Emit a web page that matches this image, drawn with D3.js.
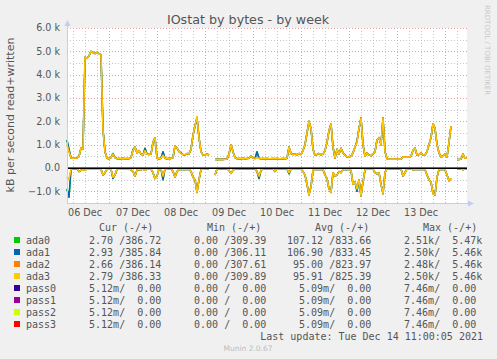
<!DOCTYPE html>
<html lang="en">
<head>
<meta charset="utf-8">
<title>IOstat by bytes - by week</title>
<script src="https://cdn.jsdelivr.net/npm/d3@7"></script>
<style>
  body { margin: 0; background: #f0f0f0; }
  svg { display: block; }
  text { font-family: "DejaVu Sans", sans-serif; fill: #555; }
  .mono { font-family: "DejaVu Sans Mono", monospace; font-size: 10px; white-space: pre; }
</style>
</head>
<body>
<div id="vis"></div>
<script>
  // hourly samples, starting Mon 06 Dec 2021 03:00, ending Tue 14 Dec 11:00 (kB/s)
  // mirror A = ada0/ada1, mirror B = ada2/ada3 ; null = no data
  const writeB = [1000,700,430,420,420,430,500,850,800,4750,
    4700,4800,5000,4950,4900,4950,4900,4850,1600,700,
    420,400,450,600,450,400,410,400,420,400,
    410,400,450,750,900,650,750,600,550,750,
    600,580,600,1100,1300,420,400,420,550,420,
    400,420,410,450,950,850,700,620,580,560,
    620,600,800,1400,1800,2200,1300,700,560,560,
    600,550,null,null,360,370,360,370,360,370,
    380,600,1000,700,450,400,410,400,420,400,
    410,420,520,430,410,450,420,400,410,400,
    410,400,400,410,400,410,400,400,410,400,
    420,900,620,580,600,560,620,580,750,1000,
    1500,2000,1700,800,560,580,620,560,600,750,
    1100,1600,1900,900,420,800,600,850,650,550,
    480,480,500,650,900,1100,1700,2150,1000,500,
    650,560,520,600,700,1200,1300,1000,2150,700,
    400,380,380,390,380,380,390,380,480,470,
    480,470,500,750,850,560,580,650,560,560,
    700,1000,1300,1900,1700,1000,650,480,500,600,
    480,1100,1800,null,null,360,360,380,600,420,
    420];
  const writeA = [1200,800,430,420,420,430,500,850,800,4750,
    4700,4800,5000,4950,4900,4950,4900,4850,1650,700,
    420,400,450,620,450,400,410,400,420,400,
    410,400,450,780,900,650,750,600,550,850,
    600,580,600,1100,1300,420,400,420,700,420,
    400,420,410,450,950,850,700,650,580,560,
    620,600,800,1400,1800,2150,1300,700,560,560,
    600,550,null,null,360,370,360,370,360,370,
    380,600,1000,700,450,400,410,400,420,400,
    410,420,520,430,410,700,420,400,410,400,
    410,400,400,410,400,410,400,400,410,400,
    420,900,620,580,600,560,620,580,750,1000,
    1500,2000,1700,800,560,580,620,560,600,750,
    1100,1600,1900,900,420,800,600,850,650,550,
    480,480,500,650,900,1150,1700,2150,1000,500,
    650,560,520,600,700,1200,1300,1000,2150,700,
    400,380,380,390,380,380,390,380,480,470,
    480,470,500,750,850,560,580,650,560,560,
    700,1000,1300,1900,1700,1000,650,480,500,600,
    480,1100,1800,null,null,360,360,380,600,420,
    420];
  const readB = [-400,-500,-50,-30,-30,-30,-150,-100,-80,-100,
    -40,-50,-40,-50,-40,-50,-40,-50,-300,-200,
    -50,-40,-50,-400,-300,-50,-40,-50,-40,-50,
    -40,-50,-80,-150,-350,-80,-60,-80,-50,-100,
    -50,-40,-50,-200,-450,-350,-50,-40,-350,-40,
    -50,-40,-40,-150,-400,-150,-60,-50,-60,-50,
    -60,-50,-150,-400,-500,-1050,-500,-80,-40,-50,
    -40,-40,null,null,-300,-40,-30,-30,-30,-30,
    -30,-100,-230,-100,-30,-30,-30,-30,-30,-30,
    -30,-30,-30,-30,-30,-150,-350,-100,-30,-30,
    -40,-40,-40,-40,-150,-40,-40,-40,-40,-40,
    -40,-200,-50,-50,-50,-50,-50,-50,-150,-300,
    -700,-1150,-800,-100,-60,-60,-60,-60,-60,-300,
    -450,-900,-1050,-200,-350,-300,-150,-200,-60,-60,
    -60,-60,-100,-700,-600,-900,-500,-1200,-600,-80,
    -50,-50,-50,-50,-200,-250,-200,-700,-1100,-200,
    -30,-30,-30,-30,-30,-30,-30,-30,-350,-200,
    -40,-40,-40,-80,-60,-60,-60,-60,-60,-60,
    -300,-500,-600,-1100,-1150,-400,-60,-60,-60,-60,
    -300,-550,-450,null,null,-30,-30,-30,-80,-30,
    -30];
  const readA = [-900,-1250,-50,-30,-30,-30,-150,-100,-80,-100,
    -40,-50,-40,-50,-40,-50,-40,-50,-300,-200,
    -50,-40,-50,-450,-300,-50,-40,-50,-40,-50,
    -40,-50,-80,-150,-350,-80,-60,-80,-50,-100,
    -50,-40,-50,-200,-450,-350,-50,-40,-500,-40,
    -50,-40,-40,-150,-400,-150,-60,-50,-60,-50,
    -60,-50,-150,-400,-500,-1050,-500,-80,-40,-50,
    -40,-40,null,null,-300,-40,-30,-30,-30,-30,
    -30,-100,-230,-100,-30,-30,-30,-30,-30,-30,
    -30,-30,-30,-30,-30,-150,-450,-100,-30,-30,
    -40,-40,-40,-40,-150,-40,-40,-40,-40,-40,
    -40,-250,-50,-50,-50,-50,-50,-50,-150,-300,
    -700,-1150,-800,-100,-60,-60,-60,-60,-60,-300,
    -450,-900,-1050,-200,-350,-300,-150,-200,-60,-60,
    -60,-60,-100,-700,-600,-1000,-500,-1200,-600,-80,
    -50,-50,-50,-50,-200,-250,-200,-700,-1100,-200,
    -30,-30,-30,-30,-30,-30,-30,-30,-350,-200,
    -40,-40,-40,-80,-60,-60,-60,-60,-60,-60,
    -300,-500,-600,-1100,-1150,-400,-60,-60,-60,-60,
    -300,-550,-450,null,null,-30,-30,-30,-80,-30,
    -30];

  // legend table (read / written)
  const names = ["ada0", "ada1", "ada2", "ada3", "pass0", "pass1", "pass2", "pass3"];
  const colours = ["#00cc00", "#0066b3", "#ff8000", "#ffcc00", "#330099", "#990099", "#ccff00", "#ff0000"];
  const curRead = [2.70, 2.93, 2.66, 2.79, 0.00512, 0.00512, 0.00512, 0.00512];
  const curWrite = [386.72, 385.84, 386.14, 386.33, 0, 0, 0, 0];
  const minRead = [0, 0, 0, 0, 0, 0, 0, 0];
  const minWrite = [309.39, 306.11, 307.61, 309.89, 0, 0, 0, 0];
  const avgRead = [107.12, 106.90, 95.00, 95.91, 0.00509, 0.00509, 0.00509, 0.00509];
  const avgWrite = [833.66, 833.45, 823.97, 825.39, 0, 0, 0, 0];
  const maxRead = [2510, 2500, 2480, 2500, 0.00746, 0.00746, 0.00746, 0.00746];
  const maxWrite = [5470, 5460, 5460, 5460, 0, 0, 0, 0];

  const yTicks = [-1000, 0, 1000, 2000, 3000, 4000, 5000, 6000];

  const width = 497, height = 359;
  const plot = { left: 67, top: 28, right: 467, bottom: 203 };

  const start = new Date(Date.UTC(2021, 11, 6, 3));
  const end = new Date(Date.UTC(2021, 11, 14, 11));
  const times = writeB.map((d, i) => d3.utcHour.offset(start, i));

  const x = d3.scaleUtc().domain([start, end]).range([plot.left, plot.right]);
  const y = d3.scaleLinear().domain([-1500, 6000]).range([plot.bottom, plot.top]);

  const svg = d3.select('#vis').append('svg')
    .attr('width', width)
    .attr('height', height);

  svg.append('rect').attr('width', width).attr('height', height).attr('fill', '#f0f0f0');
  svg.append('rect')
    .attr('x', plot.left).attr('y', plot.top)
    .attr('width', plot.right - plot.left).attr('height', plot.bottom - plot.top)
    .attr('fill', '#fff');

  // grid: minor then major, both dotted
  const grid = svg.append('g').attr('shape-rendering', 'crispEdges');
  const minorX = d3.utcHour.every(6).range(start, end);
  const majorX = d3.utcDay.range(start, end);
  grid.selectAll('.vminor').data(minorX).join('line')
    .attr('x1', d => Math.round(x(d)) + 0.5).attr('x2', d => Math.round(x(d)) + 0.5)
    .attr('y1', plot.top).attr('y2', plot.bottom)
    .attr('stroke', '#c8c8c8').attr('stroke-dasharray', '1,2');
  grid.selectAll('.hminor').data(d3.range(-1500, 6001, 500)).join('line')
    .attr('x1', plot.left).attr('x2', plot.right)
    .attr('y1', d => Math.round(y(d)) + 0.5).attr('y2', d => Math.round(y(d)) + 0.5)
    .attr('stroke', '#c8c8c8').attr('stroke-dasharray', '1,2');
  grid.selectAll('.vmajor').data(majorX).join('line')
    .attr('x1', d => Math.round(x(d)) + 0.5).attr('x2', d => Math.round(x(d)) + 0.5)
    .attr('y1', plot.top).attr('y2', plot.bottom)
    .attr('stroke', '#e8a0a0').attr('stroke-dasharray', '1,2');
  grid.selectAll('.hmajor').data(yTicks).join('line')
    .attr('x1', plot.left).attr('x2', plot.right)
    .attr('y1', d => Math.round(y(d)) + 0.5).attr('y2', d => Math.round(y(d)) + 0.5)
    .attr('stroke', '#e8a0a0').attr('stroke-dasharray', '1,2');

  // series
  const line = d3.line()
    .defined(d => d[1] != null)
    .x(d => x(d[0]))
    .y(d => y(d[1]));
  const zip = arr => arr.map((v, i) => [times[i], v]);
  const zeros = writeB.map(() => 0);

  const series = [
    { w: writeA, r: readA, sw: 1.5 },
    { w: writeA, r: readA, sw: 1.5 },
    { w: writeB, r: readB, sw: 1.5 },
    { w: writeB, r: readB, sw: 1.2 },
    { w: zeros, r: zeros, sw: 1 },
    { w: zeros, r: zeros, sw: 1 },
    { w: zeros, r: zeros, sw: 1 },
    { w: zeros, r: zeros, sw: 1 }
  ];
  const lines = svg.append('g');
  series.forEach((s, i) => {
    [s.r, s.w].forEach(arr => {
      lines.append('path')
        .attr('d', line(zip(arr)))
        .attr('fill', 'none')
        .attr('stroke', colours[i])
        .attr('stroke-width', s.sw)
        .attr('stroke-linejoin', 'round');
    });
  });

  // zero rule
  svg.append('line')
    .attr('x1', plot.left).attr('x2', plot.right)
    .attr('y1', Math.round(y(0)) + 0.5).attr('y2', Math.round(y(0)) + 0.5)
    .attr('stroke', '#000').attr('stroke-width', 1.2);

  // axes with arrows
  const axisColour = '#c4ccf2';
  svg.append('line').attr('x1', plot.left + 0.5).attr('x2', plot.left + 0.5)
    .attr('y1', plot.bottom).attr('y2', plot.top - 3)
    .attr('stroke', axisColour);
  svg.append('line').attr('x1', plot.left).attr('x2', plot.right + 3)
    .attr('y1', plot.bottom + 0.5).attr('y2', plot.bottom + 0.5)
    .attr('stroke', axisColour);
  svg.append('path')
    .attr('d', `M${plot.left - 2.5},${plot.top - 2} L${plot.left + 3.5},${plot.top - 2} L${plot.left + 0.5},${plot.top - 8} Z`)
    .attr('fill', axisColour);
  svg.append('path')
    .attr('d', `M${plot.right + 1},${plot.bottom - 2.5} L${plot.right + 1},${plot.bottom + 3.5} L${plot.right + 7},${plot.bottom + 0.5} Z`)
    .attr('fill', axisColour);

  // tick labels
  svg.append('g').selectAll('text').data(yTicks).join('text')
    .attr('x', plot.left - 7).attr('y', d => y(d))
    .attr('dy', '0.35em')
    .attr('text-anchor', 'end')
    .style('font-size', '9.6px')
    .text(d => d === 0 ? '0.0' : d3.format('.1f')(d / 1000) + ' k');

  const dayLabels = d3.utcDay.range(d3.utcDay.floor(start), d3.utcDay.floor(end)).map(d => d3.utcHour.offset(d, 12));
  svg.append('g').selectAll('text').data(dayLabels.filter(d => d < end)).join('text')
    .attr('x', d => x(d)).attr('y', 213)
    .attr('dy', '0.35em')
    .attr('text-anchor', 'middle')
    .style('font-size', '9.6px')
    .text(d => d3.utcFormat('%d %b')(d));

  // titles
  svg.append('text')
    .attr('x', 248).attr('y', 24)
    .attr('text-anchor', 'middle')
    .style('font-size', '12.7px')
    .text('IOstat by bytes - by week');

  svg.append('text')
    .attr('transform', 'translate(14,115) rotate(-90)')
    .attr('text-anchor', 'middle')
    .style('font-size', '11px')
    .text('kB per second read+written');

  svg.append('text')
    .attr('transform', 'translate(485,5) rotate(90)')
    .style('font-size', '7px')
    .style('fill', '#c8c8c8')
    .text('RRDTOOL / TOBI OETIKER');

  // legend
  function fmt(v) {
    let s = ' ';
    if (v >= 1000) { v = v / 1000; s = 'k'; }
    else if (v > 0 && v < 1) { v = v * 1000; s = 'm'; }
    return v.toFixed(2).padStart(6, ' ') + s;
  }
  const cols = [
    { x: 77, head: 'Cur (-/+)', hx: 99, r: curRead, w: curWrite },
    { x: 182, head: 'Min (-/+)', hx: 207, r: minRead, w: minWrite },
    { x: 287, head: 'Avg (-/+)', hx: 315, r: avgRead, w: avgWrite },
    { x: 392, head: 'Max (-/+)', hx: 423, r: maxRead, w: maxWrite }
  ];
  const legend = svg.append('g');
  cols.forEach(c => {
    legend.append('text').attr('class', 'mono')
      .attr('x', c.hx).attr('y', 227).attr('dy', '0.35em')
      .text(c.head);
  });
  names.forEach((n, i) => {
    const cy = 240 + i * 12;
    legend.append('rect')
      .attr('x', 14).attr('y', cy - 3).attr('width', 6).attr('height', 6)
      .attr('fill', colours[i]);
    legend.append('text').attr('class', 'mono')
      .attr('x', 26).attr('y', cy).attr('dy', '0.35em')
      .text(n);
    cols.forEach(c => {
      legend.append('text').attr('class', 'mono')
        .attr('x', c.x).attr('y', cy).attr('dy', '0.35em')
        .text(fmt(c.r[i]) + '/' + fmt(c.w[i]));
    });
  });

  legend.append('text').attr('class', 'mono')
    .attr('x', 483).attr('y', 336).attr('dy', '0.35em')
    .attr('text-anchor', 'end')
    .text('Last update: Tue Dec 14 11:00:05 2021');

  svg.append('text')
    .attr('x', 248).attr('y', 348).attr('dy', '0.35em')
    .attr('text-anchor', 'middle')
    .style('font-size', '7.5px')
    .style('fill', '#bdbdbd')
    .text('Munin 2.0.67');
</script>
</body>
</html>
